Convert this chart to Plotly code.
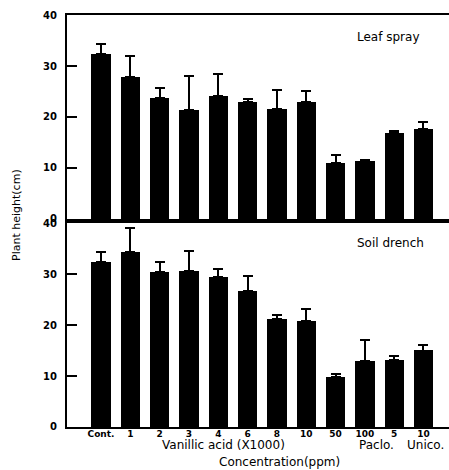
import plotly.graph_objects as go

# Treatments along the x axis and plant heights (cm) with standard errors
categories = ["Cont.", "1", "2", "3", "4", "6", "8", "10", "50", "100", "5", "10"]
leaf_spray = [32.4, 27.9, 23.8, 21.3, 24.2, 22.9, 21.6, 22.9, 10.9, 11.4, 16.9, 17.7]
leaf_spray_err = [2.0, 4.0, 1.9, 6.7, 4.2, 0.7, 3.6, 2.1, 1.7, 0.2, 0.4, 1.4]
soil_drench = [32.4, 34.4, 30.3, 30.5, 29.5, 26.6, 21.1, 20.8, 9.8, 12.9, 13.1, 15.0]
soil_drench_err = [2.0, 4.6, 2.0, 4.1, 1.5, 3.0, 0.9, 2.3, 0.6, 4.2, 0.8, 1.0]
y_ticks = [0, 10, 20, 30, 40]

positions = list(range(len(categories)))
FONT = "DejaVu Sans"

fig = go.Figure()


def add_panel(values, errors, xa, ya):
    fig.add_trace(go.Bar(
        x=positions, y=values, width=0.66,
        marker=dict(color="black", line=dict(width=0)),
        error_y=dict(type="data", array=errors, arrayminus=[0] * len(errors),
                     symmetric=False, color="black", thickness=2, width=5),
        xaxis=xa, yaxis=ya, showlegend=False,
    ))


add_panel(leaf_spray, leaf_spray_err, "x", "y")
add_panel(soil_drench, soil_drench_err, "x2", "y2")

x_range = [-1.16, 11.87]
common_x = dict(range=x_range, showgrid=False, zeroline=False, showline=True,
                linecolor="black", linewidth=2, mirror=True, ticks="")
common_y = dict(range=[0, 40], tickvals=y_ticks, showgrid=False, zeroline=False,
                showline=True, linecolor="black", linewidth=2, ticks="inside",
                ticklen=10, tickwidth=2, tickcolor="black", ticklabelstandoff=6,
                tickfont=dict(family=FONT, size=10, color="black", weight="bold"))

fig.update_layout(
    width=449, height=470,
    margin=dict(l=67, r=0, t=15, b=43),
    plot_bgcolor="white", paper_bgcolor="white",
    bargap=0,
    xaxis=dict(**common_x, domain=[0, 1], anchor="y", showticklabels=False),
    yaxis=dict(**common_y, domain=[0.5049, 1.0], anchor="x"),
    xaxis2=dict(**common_x, domain=[0, 1], anchor="y2",
                tickvals=positions, ticktext=categories, ticklabelstandoff=-3,
                tickfont=dict(family=FONT, size=9, color="black", weight="bold")),
    yaxis2=dict(**common_y, domain=[0, 0.4951], anchor="x2"),
)

txt = dict(family=FONT, size=12, color="black")
mid = dict(showarrow=False, xanchor="center", yanchor="middle")
annotations = [
    dict(text="Leaf spray", x=9.79, y=35.7, xref="x", yref="y", font=txt, **mid),
    dict(text="Soil drench", x=9.86, y=36.1, xref="x2", yref="y2", font=txt, **mid),
    dict(text="Vanillic acid (X1000)", x=4.19, y=-0.0437, xref="x2", yref="paper",
         font=txt, **mid),
    dict(text="Paclo.", x=9.38, y=-0.0437, xref="x2", yref="paper", font=txt, **mid),
    dict(text="Unico.", x=11.08, y=-0.0437, xref="x2", yref="paper", font=txt, **mid),
    dict(text="Concentration(ppm)", x=6.1, y=-0.085, xref="x2", yref="paper",
         font=txt, **mid),
    dict(text="Plant height(cm)", x=-0.131, y=0.5146, xref="paper", yref="paper",
         textangle=-90, font=dict(family=FONT, size=11, color="black"), **mid),
]
fig.update_layout(annotations=annotations)

fig.write_html("out.html")
